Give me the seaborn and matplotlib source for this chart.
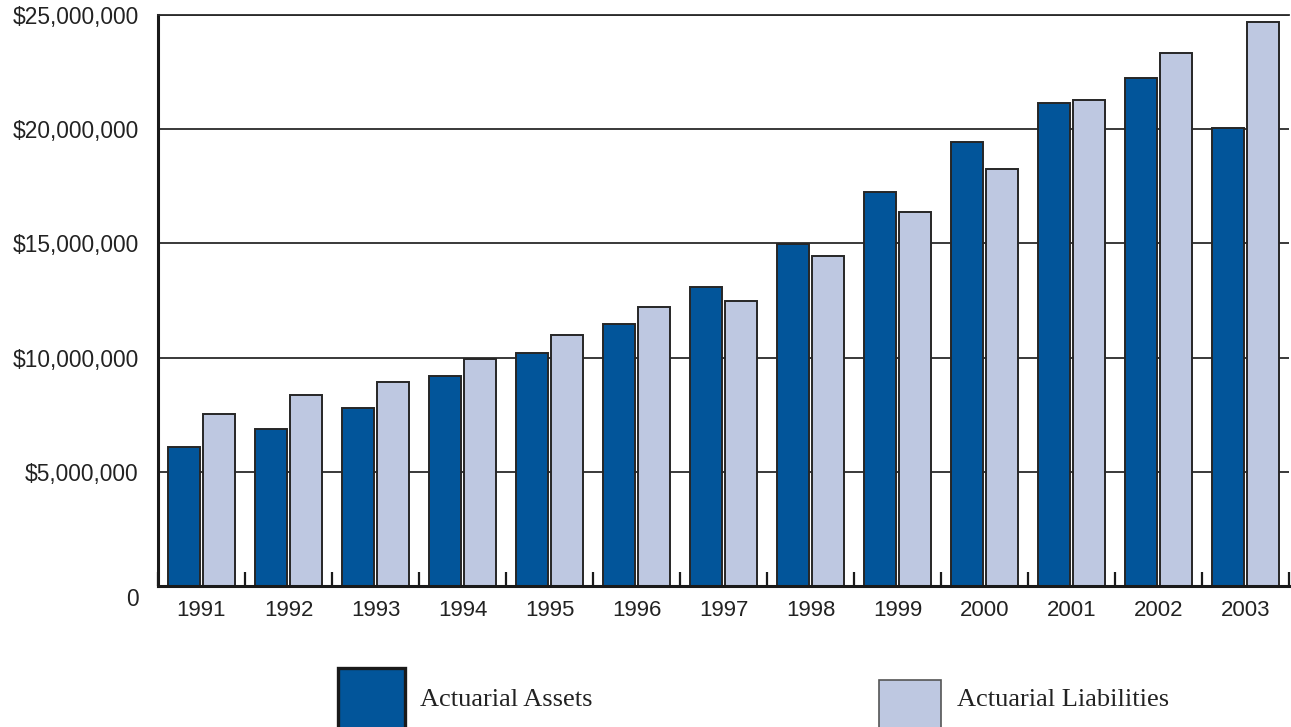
import numpy as np
import pandas as pd
import matplotlib
matplotlib.use("Agg")
import matplotlib.pyplot as plt
import matplotlib.transforms as mtransforms
from matplotlib.patches import Rectangle
import seaborn as sns

years = ["1991", "1992", "1993", "1994", "1995", "1996", "1997",
         "1998", "1999", "2000", "2001", "2002", "2003"]
assets = [6.09, 6.88, 7.78, 9.19, 10.18, 11.49, 13.10,
          14.97, 17.23, 19.43, 21.13, 22.22, 20.05]          # $ millions
liabilities = [7.52, 8.38, 8.95, 9.96, 10.97, 12.22, 12.46,
               14.47, 16.37, 18.27, 21.29, 23.33, 24.70]     # $ millions
series_names = ["Actuarial Assets", "Actuarial Liabilities"]
y_ticks = [0, 5_000_000, 10_000_000, 15_000_000, 20_000_000, 25_000_000]
y_labels = ["0", "$5,000,000", "$10,000,000", "$15,000,000",
            "$20,000,000", "$25,000,000"]

dark_blue = "#02559A"
light_blue = "#BEC8E1"

df = pd.DataFrame({
    "Year": years * 2,
    "Series": [series_names[0]] * len(years) + [series_names[1]] * len(years),
    "Value": [v * 1_000_000 for v in assets + liabilities],
})

sns.set_theme(style="white")
plt.rcParams["font.family"] = ["Liberation Sans", "DejaVu Sans"]

fig = plt.figure(figsize=(12.91, 7.27), dpi=100)
ax = fig.add_axes([158 / 1291, 1 - 586 / 727, (1289 - 158) / 1291, (586 - 15) / 727])

ax.set_axisbelow(True)
ax.yaxis.grid(True, color="#2a2a2a", linewidth=1.3)
ax.xaxis.grid(False)

sns.barplot(data=df, x="Year", y="Value", hue="Series",
            palette=[dark_blue, light_blue], saturation=1,
            width=0.8, gap=0.08,
            edgecolor="#262626", linewidth=1.4, legend=False, ax=ax,
            zorder=2)

ax.set_xlim(-0.5, len(years) - 0.5)
ax.set_ylim(0, 25_000_000)
ax.set_yticks(y_ticks)
ax.set_yticklabels(y_labels, fontsize=16.4, color="#222222")
ax.tick_params(axis="y", length=0, pad=14)
ax.tick_params(axis="x", which="major", length=0, pad=10, labelsize=16,
               labelcolor="#222222")

# boundary ticks between year groups, pointing up into the plot
ax.set_xticks(np.arange(-0.5, len(years)), minor=True)
ax.tick_params(axis="x", which="minor", direction="in", length=10,
               width=1.6, color="#1a1a1a", bottom=True)

ax.set_xlabel("")
ax.set_ylabel("")

for side in ["left", "bottom"]:
    ax.spines[side].set_color("#1a1a1a")
    ax.spines[side].set_linewidth(2.2)
ax.spines["right"].set_visible(False)
ax.spines["top"].set_color("#2a2a2a")
ax.spines["top"].set_linewidth(1.3)

# the zero label sits a little below the baseline
zero_lab = ax.get_yticklabels()[0]
zero_lab.set_transform(zero_lab.get_transform() +
                       mtransforms.ScaledTranslation(0, -11 / 100, fig.dpi_scale_trans))

# legend drawn below the plot
def fig_rect(x0, y0, x1, y1, **kw):
    fig.add_artist(Rectangle((x0 / 1291, 1 - y1 / 727), (x1 - x0) / 1291,
                             (y1 - y0) / 727, transform=fig.transFigure, **kw))

fig_rect(338, 668, 405, 740, facecolor=dark_blue, edgecolor="#1a1a1a",
         linewidth=2.4, clip_on=False)
fig_rect(879, 680, 941, 740, facecolor=light_blue, edgecolor="#555555",
         linewidth=1.2, clip_on=False)
fig.text(420 / 1291, 1 - 700 / 727, series_names[0], fontsize=19,
         family=["Liberation Serif", "DejaVu Serif"], va="center", ha="left",
         color="#222222")
fig.text(957 / 1291, 1 - 700 / 727, series_names[1], fontsize=19,
         family=["Liberation Serif", "DejaVu Serif"], va="center", ha="left",
         color="#222222")

fig.savefig("out.png", dpi=100)
